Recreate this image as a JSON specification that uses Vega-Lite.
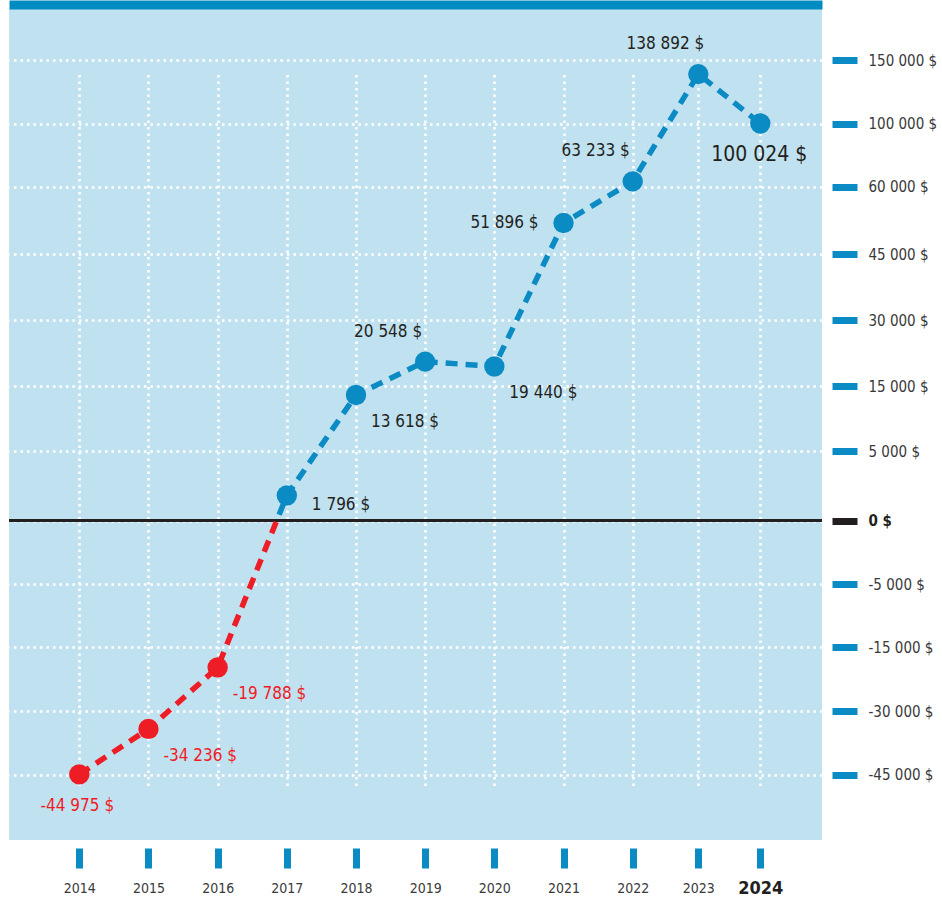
{
  "$schema": "https://vega.github.io/schema/vega-lite/v6.json",
  "width": 813,
  "height": 831,
  "autosize": {"type": "none"},
  "padding": {"left": 9, "top": 9, "right": 120, "bottom": 63},
  "background": "white",
  "config": {
    "view": {"fill": "#c0e1ef", "stroke": null},
    "font": "DejaVu Sans Condensed, Roboto",
    "locale": {"number": {"decimal": ",", "thousands": " ", "grouping": [3], "currency": ["", " $"], "minus": "-"}}
  },
  "data": {"values": [
    {"year": 2014, "value": -44975},
    {"year": 2015, "value": -34236},
    {"year": 2016, "value": -19788},
    {"year": 2017, "value": 1796},
    {"year": 2018, "value": 13618},
    {"year": 2019, "value": 20548},
    {"year": 2020, "value": 19440},
    {"year": 2021, "value": 51896},
    {"year": 2022, "value": 63233},
    {"year": 2023, "value": 138892},
    {"year": 2024, "value": 100024}
  ]},
  "resolve": {"axis": {"x": "independent"}},
  "layer": [
    {
      "mark": {"type": "rule", "color": "#231f20", "strokeWidth": 3},
      "encoding": {
        "y": {"datum": 0, "type": "quantitative", "scale": {"type": "linear", "zero": false, "nice": false, "domain": [-45000, -30000, -15000, -5000, 0, 5000, 15000, 30000, 45000, 60000, 100000, 150000], "range": [765.5, 702, 638, 575, 511.5, 442, 377, 311, 245, 177.5, 114.5, 51]}}
      }
    },
    {
      "mark": {"type": "line", "strokeWidth": 5.5, "strokeDash": [12, 8], "strokeCap": "butt",
        "stroke": {"gradient": "linear", "x1": 0, "y1": 0, "x2": 0, "y2": 1, "stops": [
          {"offset": 0, "color": "#0a8bc4"}, {"offset": 0.637, "color": "#0a8bc4"},
          {"offset": 0.637, "color": "#ee1c25"}, {"offset": 1, "color": "#ee1c25"}]}},
      "encoding": {
        "x": {"field": "year", "type": "quantitative",
          "scale": {"type": "linear", "zero": false, "nice": false, "domain": [2012.984, 2014, 2022, 2023, 2024, 2025], "range": [0, 70.3, 623.7, 689.3, 751.3, 813]},
          "axis": {"orient": "bottom", "title": null, "values": [2014, 2015, 2016, 2017, 2018, 2019, 2020, 2021, 2022, 2023, 2024], "format": "d",
            "domain": false, "offset": 8, "tickSize": 20, "tickWidth": 7, "tickColor": "#0a8bc4", "tickCap": "butt",
            "labelPadding": 20, "labelBaseline": "middle", "labelFont": "DejaVu Sans Condensed, Roboto",
            "labelFontSize": {"condition": {"test": "datum.value == 2024", "value": 18}, "value": 14},
            "labelFontWeight": {"condition": {"test": "datum.value == 2024", "value": "bold"}, "value": "normal"},
            "labelColor": {"condition": {"test": "datum.value == 2024", "value": "#231f20"}, "value": "#3a3a3a"},
            "labelFlush": false, "labelOverlap": false, "labelBound": false,
            "grid": true, "gridColor": "white", "gridOpacity": 1, "gridWidth": 2.6, "gridDash": [2.6, 3.9]}},
        "y": {"field": "value", "type": "quantitative",
          "scale": {"type": "linear", "zero": false, "nice": false, "domain": [-45000, -30000, -15000, -5000, 0, 5000, 15000, 30000, 45000, 60000, 100000, 150000], "range": [765.5, 702, 638, 575, 511.5, 442, 377, 311, 245, 177.5, 114.5, 51]},
          "axis": {"orient": "right", "title": null, "values": [-45000, -30000, -15000, -5000, 0, 5000, 15000, 30000, 45000, 60000, 100000, 150000], "format": "$,.0f",
            "domain": false, "offset": 10, "tickSize": 25, "tickWidth": 7, "tickCap": "butt",
            "tickColor": {"condition": {"test": "datum.value == 0", "value": "#231f20"}, "value": "#0a8bc4"},
            "labelPadding": 11, "labelBaseline": "middle", "labelFont": "DejaVu Sans Condensed, Roboto", "labelFontSize": 15,
            "labelFontWeight": {"condition": {"test": "datum.value == 0", "value": "bold"}, "value": "normal"},
            "labelColor": {"condition": {"test": "datum.value == 0", "value": "#231f20"}, "value": "#3a3a3a"},
            "labelFlush": false, "labelOverlap": false, "labelBound": false,
            "grid": true, "gridColor": "white", "gridOpacity": 1, "gridWidth": 2.6, "gridDash": [2.6, 3.9]}}
      }
    },
    {
      "mark": {"type": "circle", "size": 415, "opacity": 1},
      "encoding": {
        "x": {"field": "year", "type": "quantitative",
          "scale": {"type": "linear", "zero": false, "nice": false, "domain": [2012.984, 2014, 2022, 2023, 2024, 2025], "range": [0, 70.3, 623.7, 689.3, 751.3, 813]},
          "axis": {"orient": "top", "title": null, "labels": false, "ticks": false, "grid": false, "domain": true, "domainColor": "#008cc2", "domainWidth": 9, "domainCap": "butt", "offset": 4.5}},
        "y": {"field": "value", "type": "quantitative",
          "scale": {"type": "linear", "zero": false, "nice": false, "domain": [-45000, -30000, -15000, -5000, 0, 5000, 15000, 30000, 45000, 60000, 100000, 150000], "range": [765.5, 702, 638, 575, 511.5, 442, 377, 311, 245, 177.5, 114.5, 51]}},
        "color": {"condition": {"test": "datum.value < 0", "value": "#ee1c25"}, "value": "#0a8bc4"}
      }
    },
    {
      "transform": [{"filter": {"field": "year", "oneOf": [2014]}}],
      "mark": {"type": "text", "align": "center", "baseline": "middle", "dx": -2, "dy": 32, "fontSize": 17, "font": "DejaVu Sans Condensed, Roboto"},
      "encoding": {
        "x": {"field": "year", "type": "quantitative", "axis": null, "scale": {"type": "linear", "zero": false, "nice": false, "domain": [2012.984, 2014, 2022, 2023, 2024, 2025], "range": [0, 70.3, 623.7, 689.3, 751.3, 813]}},
        "y": {"field": "value", "type": "quantitative", "scale": {"type": "linear", "zero": false, "nice": false, "domain": [-45000, -30000, -15000, -5000, 0, 5000, 15000, 30000, 45000, 60000, 100000, 150000], "range": [765.5, 702, 638, 575, 511.5, 442, 377, 311, 245, 177.5, 114.5, 51]}},
        "text": {"field": "value", "type": "quantitative", "format": "$,"},
        "color": {"condition": {"test": "datum.value < 0", "value": "#ee1c25"}, "value": "#231f20"}
      }
    },
    {
      "transform": [{"filter": {"field": "year", "oneOf": [2015, 2016, 2018, 2020]}}],
      "mark": {"type": "text", "align": "left", "baseline": "middle", "dx": 15, "dy": 27, "fontSize": 17, "font": "DejaVu Sans Condensed, Roboto"},
      "encoding": {
        "x": {"field": "year", "type": "quantitative", "axis": null, "scale": {"type": "linear", "zero": false, "nice": false, "domain": [2012.984, 2014, 2022, 2023, 2024, 2025], "range": [0, 70.3, 623.7, 689.3, 751.3, 813]}},
        "y": {"field": "value", "type": "quantitative", "scale": {"type": "linear", "zero": false, "nice": false, "domain": [-45000, -30000, -15000, -5000, 0, 5000, 15000, 30000, 45000, 60000, 100000, 150000], "range": [765.5, 702, 638, 575, 511.5, 442, 377, 311, 245, 177.5, 114.5, 51]}},
        "text": {"field": "value", "type": "quantitative", "format": "$,"},
        "color": {"condition": {"test": "datum.value < 0", "value": "#ee1c25"}, "value": "#231f20"}
      }
    },
    {
      "transform": [{"filter": {"field": "year", "oneOf": [2017]}}],
      "mark": {"type": "text", "align": "left", "baseline": "middle", "dx": 25, "dy": 9, "fontSize": 17, "font": "DejaVu Sans Condensed, Roboto"},
      "encoding": {
        "x": {"field": "year", "type": "quantitative", "axis": null, "scale": {"type": "linear", "zero": false, "nice": false, "domain": [2012.984, 2014, 2022, 2023, 2024, 2025], "range": [0, 70.3, 623.7, 689.3, 751.3, 813]}},
        "y": {"field": "value", "type": "quantitative", "scale": {"type": "linear", "zero": false, "nice": false, "domain": [-45000, -30000, -15000, -5000, 0, 5000, 15000, 30000, 45000, 60000, 100000, 150000], "range": [765.5, 702, 638, 575, 511.5, 442, 377, 311, 245, 177.5, 114.5, 51]}},
        "text": {"field": "value", "type": "quantitative", "format": "$,"},
        "color": {"condition": {"test": "datum.value < 0", "value": "#ee1c25"}, "value": "#231f20"}
      }
    },
    {
      "transform": [{"filter": {"field": "year", "oneOf": [2019, 2022]}}],
      "mark": {"type": "text", "align": "right", "baseline": "middle", "dx": -3, "dy": -30, "fontSize": 17, "font": "DejaVu Sans Condensed, Roboto"},
      "encoding": {
        "x": {"field": "year", "type": "quantitative", "axis": null, "scale": {"type": "linear", "zero": false, "nice": false, "domain": [2012.984, 2014, 2022, 2023, 2024, 2025], "range": [0, 70.3, 623.7, 689.3, 751.3, 813]}},
        "y": {"field": "value", "type": "quantitative", "scale": {"type": "linear", "zero": false, "nice": false, "domain": [-45000, -30000, -15000, -5000, 0, 5000, 15000, 30000, 45000, 60000, 100000, 150000], "range": [765.5, 702, 638, 575, 511.5, 442, 377, 311, 245, 177.5, 114.5, 51]}},
        "text": {"field": "value", "type": "quantitative", "format": "$,"},
        "color": {"condition": {"test": "datum.value < 0", "value": "#ee1c25"}, "value": "#231f20"}
      }
    },
    {
      "transform": [{"filter": {"field": "year", "oneOf": [2023]}}],
      "mark": {"type": "text", "align": "right", "baseline": "middle", "dx": 6, "dy": -30, "fontSize": 17, "font": "DejaVu Sans Condensed, Roboto"},
      "encoding": {
        "x": {"field": "year", "type": "quantitative", "axis": null, "scale": {"type": "linear", "zero": false, "nice": false, "domain": [2012.984, 2014, 2022, 2023, 2024, 2025], "range": [0, 70.3, 623.7, 689.3, 751.3, 813]}},
        "y": {"field": "value", "type": "quantitative", "scale": {"type": "linear", "zero": false, "nice": false, "domain": [-45000, -30000, -15000, -5000, 0, 5000, 15000, 30000, 45000, 60000, 100000, 150000], "range": [765.5, 702, 638, 575, 511.5, 442, 377, 311, 245, 177.5, 114.5, 51]}},
        "text": {"field": "value", "type": "quantitative", "format": "$,"},
        "color": {"condition": {"test": "datum.value < 0", "value": "#ee1c25"}, "value": "#231f20"}
      }
    },
    {
      "transform": [{"filter": {"field": "year", "oneOf": [2021]}}],
      "mark": {"type": "text", "align": "right", "baseline": "middle", "dx": -25, "dy": 0, "fontSize": 17, "font": "DejaVu Sans Condensed, Roboto"},
      "encoding": {
        "x": {"field": "year", "type": "quantitative", "axis": null, "scale": {"type": "linear", "zero": false, "nice": false, "domain": [2012.984, 2014, 2022, 2023, 2024, 2025], "range": [0, 70.3, 623.7, 689.3, 751.3, 813]}},
        "y": {"field": "value", "type": "quantitative", "scale": {"type": "linear", "zero": false, "nice": false, "domain": [-45000, -30000, -15000, -5000, 0, 5000, 15000, 30000, 45000, 60000, 100000, 150000], "range": [765.5, 702, 638, 575, 511.5, 442, 377, 311, 245, 177.5, 114.5, 51]}},
        "text": {"field": "value", "type": "quantitative", "format": "$,"},
        "color": {"condition": {"test": "datum.value < 0", "value": "#ee1c25"}, "value": "#231f20"}
      }
    },
    {
      "transform": [{"filter": {"field": "year", "oneOf": [2024]}}],
      "mark": {"type": "text", "align": "center", "baseline": "middle", "dx": -1, "dy": 32, "fontSize": 21, "font": "DejaVu Sans Condensed, Roboto"},
      "encoding": {
        "x": {"field": "year", "type": "quantitative", "axis": null, "scale": {"type": "linear", "zero": false, "nice": false, "domain": [2012.984, 2014, 2022, 2023, 2024, 2025], "range": [0, 70.3, 623.7, 689.3, 751.3, 813]}},
        "y": {"field": "value", "type": "quantitative", "scale": {"type": "linear", "zero": false, "nice": false, "domain": [-45000, -30000, -15000, -5000, 0, 5000, 15000, 30000, 45000, 60000, 100000, 150000], "range": [765.5, 702, 638, 575, 511.5, 442, 377, 311, 245, 177.5, 114.5, 51]}},
        "text": {"field": "value", "type": "quantitative", "format": "$,"},
        "color": {"condition": {"test": "datum.value < 0", "value": "#ee1c25"}, "value": "#231f20"}
      }
    }
  ]
}
